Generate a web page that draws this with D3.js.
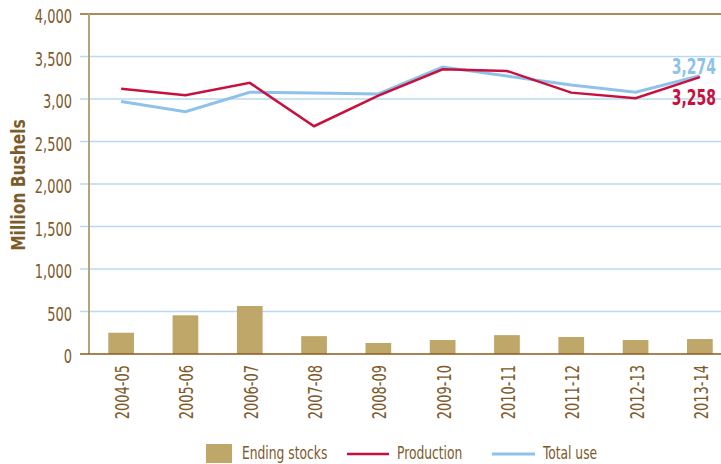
<!DOCTYPE html>
<html>
  <head>
    <meta charset="utf-8">
    <title>Soybean supply and use</title>
    <script src="https://d3js.org/d3.v7.min.js"></script>
  </head>
  <style>
    body { margin: 0; background: #fff; }
    text { font-family: "DejaVu Sans Condensed", "Liberation Sans", sans-serif; fill: #7d5a2a; }
  </style>
  <body>
    <script type="text/javascript">
        var width = 721;
        var height = 464;
        var sx = 0.76; // squeeze text to look like the narrow face of the original

        const years = ['2004-05','2005-06','2006-07','2007-08','2008-09','2009-10','2010-11','2011-12','2012-13','2013-14'];
        const endingStocks = [250, 455, 565, 210, 130, 165, 222, 200, 165, 176];
        const production = [3120, 3045, 3190, 2680, 3040, 3350, 3330, 3075, 3010, 3258];
        const totalUse = [2970, 2850, 3080, 3070, 3060, 3375, 3270, 3165, 3080, 3274];
        const yTicks = [0, 500, 1000, 1500, 2000, 2500, 3000, 3500, 4000];
        const yTickLabels = ['0', '500', '1,000', '1,500', '2,000', '2,500', '3,00', '3,500', '4,000'];

        const svg = d3.select('body').append('svg').attr('width', width).attr('height', height);

        const x = d3.scaleBand().domain(years).range([89, 732]).paddingInner(0.6).paddingOuter(0.3);
        const y = d3.scaleLinear().domain([0, 4000]).range([354, 14]);

        // grid
        svg.append('g').selectAll('line')
          .data(yTicks.filter(d => d > 0 && d < 4000))
          .enter().append('line')
          .attr('x1', 80).attr('x2', width)
          .attr('y1', d => y(d)).attr('y2', d => y(d))
          .attr('stroke', '#b7d9f1').attr('stroke-width', 1.5);

        svg.append('line')
          .attr('x1', 80).attr('x2', width)
          .attr('y1', y(4000)).attr('y2', y(4000))
          .attr('stroke', '#a98b5c').attr('stroke-width', 2);

        // y tick labels
        svg.append('g').selectAll('text')
          .data(yTicks)
          .enter().append('text')
          .attr('transform', d => 'translate(72,' + (y(d) + 9) + ') scale(' + sx + ',1)')
          .attr('text-anchor', 'end')
          .style('font-size', '19px')
          .text((d, i) => yTickLabels[i]);

        svg.append('text')
          .attr('transform', 'translate(25,185) rotate(-90) scale(0.86,1)')
          .attr('text-anchor', 'middle')
          .style('font-size', '20px')
          .style('font-weight', 'bold')
          .text('Million Bushels');

        // bars
        svg.append('g').selectAll('rect')
          .data(years)
          .enter().append('rect')
          .attr('x', d => x(d))
          .attr('width', x.bandwidth())
          .attr('y', (d, i) => y(endingStocks[i]))
          .attr('height', (d, i) => y(0) - y(endingStocks[i]))
          .attr('fill', '#bfa76a');

        // axes lines
        svg.append('line')
          .attr('x1', 89).attr('x2', 89)
          .attr('y1', y(4000)).attr('y2', y(0))
          .attr('stroke', '#b8a27c').attr('stroke-width', 2);
        svg.append('line')
          .attr('x1', 80).attr('x2', width)
          .attr('y1', y(0)).attr('y2', y(0))
          .attr('stroke', '#8b5a1e').attr('stroke-width', 1.5);

        // x labels
        svg.append('g').selectAll('text')
          .data(years)
          .enter().append('text')
          .attr('transform', d => 'translate(' + (x(d) + x.bandwidth() / 2 + 8) + ',365) rotate(-90) scale(' + sx + ',1)')
          .attr('text-anchor', 'end')
          .style('font-size', '19px')
          .text(d => d);

        // lines
        const line = d3.line().x((d, i) => x(years[i]) + x.bandwidth() / 2).y(d => y(d));
        svg.append('path').datum(totalUse)
          .attr('d', line).attr('fill', 'none')
          .attr('stroke', '#8fc2e9').attr('stroke-width', 3);
        svg.append('path').datum(production)
          .attr('d', line).attr('fill', 'none')
          .attr('stroke', '#c8103e').attr('stroke-width', 2.5);

        svg.append('text')
          .attr('transform', 'translate(716,74) scale(0.74,1)')
          .attr('text-anchor', 'end')
          .style('font-size', '21px').style('font-weight', 'bold')
          .style('fill', '#8fc2e9')
          .text(d3.format(',')(totalUse[totalUse.length - 1]));
        svg.append('text')
          .attr('transform', 'translate(716,105) scale(0.74,1)')
          .attr('text-anchor', 'end')
          .style('font-size', '21px').style('font-weight', 'bold')
          .style('fill', '#c8103e')
          .text(d3.format(',')(production[production.length - 1]));

        // legend
        const lg = svg.append('g');
        lg.append('rect').attr('x', 206).attr('y', 444).attr('width', 26).attr('height', 19).attr('fill', '#bfa76a');
        lg.append('text').attr('transform', 'translate(242,459) scale(' + sx + ',1)').style('font-size', '18px').text('Ending stocks');
        lg.append('line').attr('x1', 347).attr('x2', 389).attr('y1', 454).attr('y2', 454)
          .attr('stroke', '#c8103e').attr('stroke-width', 2.5);
        lg.append('text').attr('transform', 'translate(397,459) scale(' + sx + ',1)').style('font-size', '18px').text('Production');
        lg.append('line').attr('x1', 492).attr('x2', 535).attr('y1', 454).attr('y2', 454)
          .attr('stroke', '#8fc2e9').attr('stroke-width', 3);
        lg.append('text').attr('transform', 'translate(543,459) scale(' + sx + ',1)').style('font-size', '18px').text('Total use');
      </script>
  </body>
</html>
